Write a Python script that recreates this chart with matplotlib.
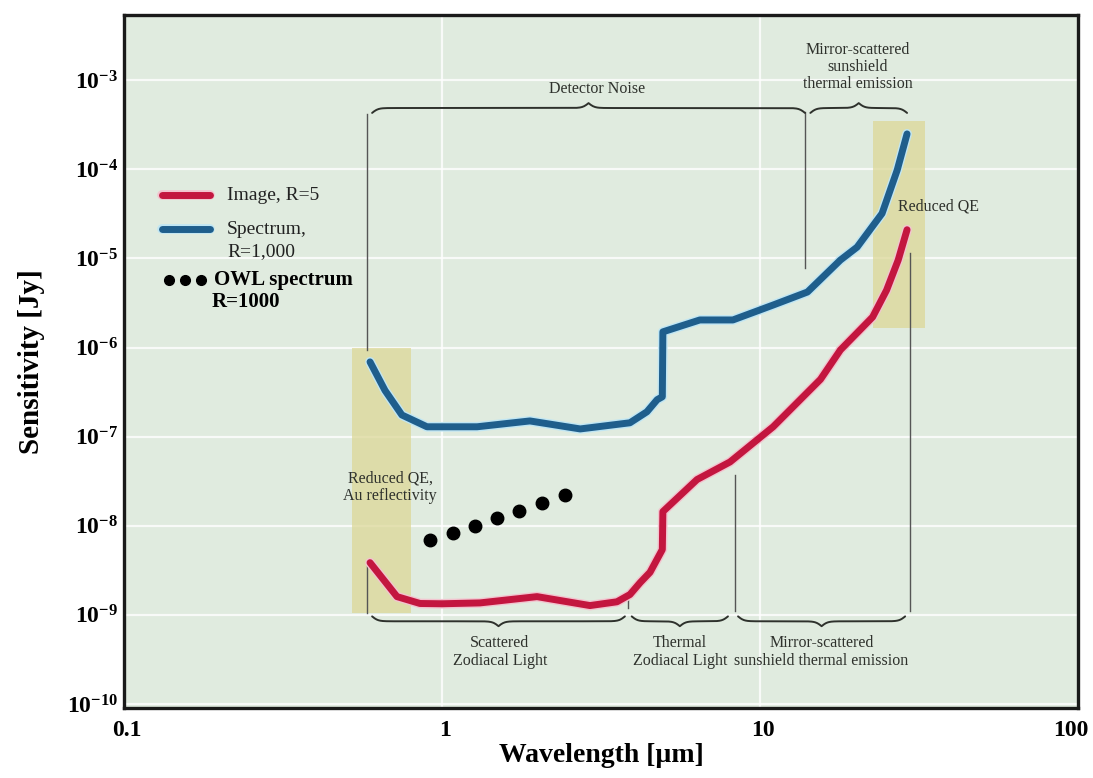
import numpy as np
import matplotlib
matplotlib.use('Agg')
import matplotlib.pyplot as plt
import matplotlib.patheffects as pe
from matplotlib.ticker import FuncFormatter, NullLocator
from matplotlib.transforms import ScaledTranslation

plt.rcParams['font.family'] = ['Liberation Serif', 'DejaVu Serif']
plt.rcParams['mathtext.fontset'] = 'custom'
plt.rcParams['mathtext.rm'] = 'Liberation Serif'
plt.rcParams['mathtext.bf'] = 'Liberation Serif:bold'

# wavelength [um] / sensitivity [Jy]
image_wl = [0.594, 0.722, 0.853, 1.0, 1.316, 1.99, 2.92, 3.55, 3.9, 4.2, 4.51, 4.93, 4.95,
            6.34, 8.05, 11.0, 15.5, 17.9, 22.6, 25.0, 27.2, 29.0]
image_sens = [3.85e-9, 1.6e-9, 1.34e-9, 1.33e-9, 1.36e-9, 1.6e-9, 1.27e-9, 1.4e-9, 1.69e-9,
              2.3e-9, 3.0e-9, 5.4e-9, 1.44e-8, 3.3e-8, 5.2e-8, 1.29e-7, 4.4e-7, 9.4e-7,
              2.2e-6, 4.4e-6, 9.6e-6, 2.1e-5]

spec_wl = [0.594, 0.662, 0.748, 0.897, 1.29, 1.89, 2.72, 3.9, 4.41, 4.75, 4.93, 4.95,
           6.47, 8.22, 11.0, 14.1, 17.9, 20.2, 24.2, 27.0, 29.0]
spec_sens = [6.9e-7, 3.3e-7, 1.75e-7, 1.29e-7, 1.29e-7, 1.5e-7, 1.22e-7, 1.43e-7, 1.9e-7,
             2.6e-7, 2.8e-7, 1.5e-6, 2.04e-6, 2.04e-6, 3.0e-6, 4.2e-6, 9.6e-6, 1.34e-5,
             3.2e-5, 9.8e-5, 2.5e-4]

owl_wl = [0.92, 1.08, 1.27, 1.49, 1.75, 2.07, 2.44]
owl_sens = [7.0e-9, 8.35e-9, 1.0e-8, 1.23e-8, 1.47e-8, 1.81e-8, 2.2e-8]

yticks = [1e-10, 1e-9, 1e-8, 1e-7, 1e-6, 1e-5, 1e-4, 1e-3]
xticks = [0.1, 1, 10, 100]
xticklabels = ['0.1', '1', '10', '100']

red = '#c3163f'
blue = '#1f5e8c'
bg = '#e0ebdf'
ink = '#2e312c'

fig = plt.figure(figsize=(10.93, 7.78), dpi=100)
ax = fig.add_axes([0.1134, 0.090, 0.8729, 0.8907])
ax.set_facecolor(bg)
ax.set_xscale('log')
ax.set_yscale('log')
ax.set_xlim(0.1, 100)
ax.set_ylim(9.0e-11, 5.4e-3)

ax.set_axisbelow(True)
ax.set_yticks(yticks)
ax.yaxis.set_major_formatter(FuncFormatter(lambda v, p: r'$\mathbf{10^{%d}}$' % round(np.log10(v))))
ax.set_xticks(xticks)
ax.set_xticklabels([])
ax.xaxis.set_minor_locator(NullLocator())
ax.yaxis.set_minor_locator(NullLocator())
ax.grid(True, color='white', lw=1.6, alpha=0.8)
ax.tick_params(axis='x', length=0)
ax.tick_params(axis='y', length=0, labelsize=17, pad=4)
for s in ax.spines.values():
    s.set_linewidth(2.4)
    s.set_color('#1a1a1a')

# x tick labels as text so the last one can sit inside the figure
xl_tr = ax.get_xaxis_transform()
for v, t in zip(xticks, xticklabels):
    off = -0.07 if t == '100' else 0.03
    ax.text(v, -0.018, t, transform=xl_tr + ScaledTranslation(off, 0, fig.dpi_scale_trans),
            fontsize=17, fontweight='bold', ha='center', va='top', clip_on=False)

# shaded "reduced QE" bands
ax.fill_between([0.52, 0.80], 1.05e-9, 1.0e-6, color='#dcd898', alpha=0.75, lw=0)
ax.fill_between([22.7, 33.0], 1.65e-6, 3.5e-4, color='#dcd898', alpha=0.75, lw=0)

# thin guide lines
ax.plot([0.58, 0.58], [4.2e-4, 9.4e-7], color='#555555', lw=1)
ax.plot([0.58, 0.58], [3.5e-9, 1.05e-9], color='#555555', lw=1)
ax.plot([13.85, 13.85], [4.4e-4, 7.8e-6], color='#555555', lw=1)
ax.plot([29.6, 29.6], [1.15e-5, 1.1e-9], color='#555555', lw=1)
ax.plot([3.85, 3.85], [1.6e-9, 1.2e-9], color='#555555', lw=1)
ax.plot([8.34, 8.34], [3.7e-8, 1.1e-9], color='#555555', lw=1)


def brace(x1, x2, y, sign):
    lx = np.linspace(np.log10(x1), np.log10(x2), 401)
    u = np.linspace(0, 1, 401)
    width_px = (lx[-1] - lx[0]) * 318
    beta = width_px / 3.0
    half = u[:201]
    yh = 1 / (1 + np.exp(-beta * (half - half[0]))) + 1 / (1 + np.exp(-beta * (half - half[-1])))
    s = np.concatenate([yh, yh[-2::-1]]) - 0.5
    ly = np.log10(y) + sign * 0.11 * s
    ax.plot(10 ** lx, 10 ** ly, color=ink, lw=1.4, solid_capstyle='round')


brace(0.603, 13.85, 4.3e-4, 1)
brace(14.4, 29.0, 4.3e-4, 1)
brace(0.603, 3.76, 9.6e-10, -1)
brace(3.95, 7.93, 9.6e-10, -1)
brace(8.53, 28.6, 9.6e-10, -1)

# curves
ax.plot(image_wl, image_sens, color=red, lw=5, solid_capstyle='round', solid_joinstyle='round',
        path_effects=[pe.Stroke(linewidth=7, foreground='#f2c4cf'), pe.Normal()])
ax.plot(spec_wl, spec_sens, color=blue, lw=5, solid_capstyle='round', solid_joinstyle='round',
        path_effects=[pe.Stroke(linewidth=7, foreground='#c0e6f4'), pe.Normal()])
ax.plot(owl_wl, owl_sens, 'o', color='black', ms=9, ls='none')

# annotations
tk = dict(fontsize=11.5, color=ink, ha='center', va='center')
ax.text(3.07, 7.9e-4, 'Detector Noise', **tk)
ax.text(20.3, 1.4e-3, 'Mirror-scattered\nsunshield\nthermal emission', linespacing=1.1, **tk)
ax.text(1.52, 3.8e-10, 'Scattered\nZodiacal Light', linespacing=1.2, **tk)
ax.text(5.6, 3.8e-10, 'Thermal\nZodiacal Light', linespacing=1.2, **tk)
ax.text(15.6, 3.8e-10, 'Mirror-scattered\nsunshield thermal emission', linespacing=1.2, **tk)
ax.text(0.687, 2.7e-8, 'Reduced QE,\nAu reflectivity', linespacing=1.2, **tk)
ax.text(36.3, 3.8e-5, 'Reduced QE', **tk)

# hand-made legend
tr = ax.transAxes
ax.plot([0.040, 0.090], [0.740, 0.740], color=red, lw=5, transform=tr, solid_capstyle='round',
        path_effects=[pe.Stroke(linewidth=7, foreground='#f2c4cf'), pe.Normal()])
ax.plot([0.040, 0.090], [0.691, 0.691], color=blue, lw=5, transform=tr, solid_capstyle='round',
        path_effects=[pe.Stroke(linewidth=7, foreground='#c0e6f4'), pe.Normal()])
ax.plot([0.047, 0.064, 0.081], [0.618, 0.618, 0.618], 'o', color='black', ms=7, transform=tr)
ax.text(0.108, 0.740, 'Image, R=5', transform=tr, fontsize=14, va='center', color='#222222')
ax.text(0.108, 0.691, 'Spectrum,', transform=tr, fontsize=14, va='center', color='#222222')
ax.text(0.108, 0.658, 'R=1,000', transform=tr, fontsize=14, va='center', color='#222222')
ax.text(0.094, 0.618, 'OWL spectrum', transform=tr, fontsize=15, fontweight='bold', va='center')
ax.text(0.092, 0.586, 'R=1000', transform=tr, fontsize=15, fontweight='bold', va='center')

ax.set_xlabel('Wavelength [µm]', fontsize=20, fontweight='bold', labelpad=22)
ax.set_ylabel('Sensitivity [Jy]', fontsize=21, fontweight='bold', labelpad=16)

fig.savefig('out.png', dpi=100)
